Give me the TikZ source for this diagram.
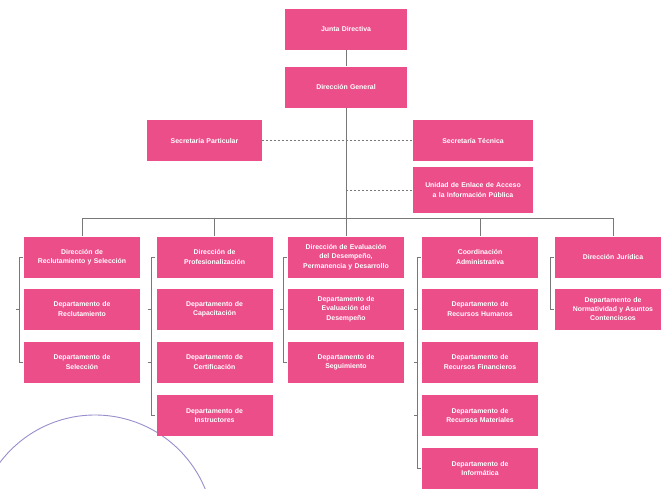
\documentclass[tikz,border=0pt]{standalone}
\usepackage{fontspec}
\setmainfont{Liberation Sans}
\definecolor{rosa}{RGB}{236,78,138}
\definecolor{linea}{RGB}{120,120,120}
\definecolor{sello}{RGB}{150,142,205}
\begin{document}
\begin{tikzpicture}[x=1pt,y=-1pt,
	caja/.style={fill=rosa,text=white,font=\fontsize{6.9}{9.4}\selectfont\bfseries,align=center,
		minimum width=116pt,minimum height=41pt,text width=110pt,inner sep=0pt},
	ancha/.style={caja,minimum width=122pt,text width=114pt},
	linea/.style={draw=linea,line width=0.6pt},
	punteada/.style={linea,dash pattern=on 2pt off 2pt}]
\useasboundingbox (0,0) rectangle (661,488);
\clip (0,0) rectangle (661,488);

% sello
\draw[sello,line width=0.9pt] (95,534) circle (119);

% nivel superior
\node[ancha] (jd) at (346,29) {Junta Directiva};
\node[ancha] (dg) at (346,87) {Dirección General};
\node[caja,minimum width=115pt] (sp) at (204.5,140.5) {Secretaría Particular};
\node[caja,minimum width=120pt] (st) at (473,140.5) {Secretaría Técnica};
\node[caja,minimum width=120pt,minimum height=46pt] (ue) at (473,190) {Unidad de Enlace de Acceso\\a la Información Pública};

\coordinate (bus) at (346,218);

% columnas
\node[caja] (a1) at (82,257) {Dirección de\\Reclutamiento y Selección};
\node[caja] (a2) at (82,309) {Departamento de\\Reclutamiento};
\node[caja] (a3) at (82,362) {Departamento de\\Selección};

\node[caja] (b1) at (214.5,257) {Dirección de\\Profesionalización};
\node[caja] (b2) at (214.5,309) {Departamento de\\Capacitación};
\node[caja] (b3) at (214.5,362) {Departamento de\\Certificación};
\node[caja] (b4) at (214.5,415.5) {Departamento de\\Instructores};

\node[caja] (c1) at (346,257) {Dirección de Evaluación\\del Desempeño,\\Permanencia y Desarrollo};
\node[caja] (c2) at (346,309) {Departamento de\\Evaluación del\\Desempeño};
\node[caja] (c3) at (346,362) {Departamento de\\Seguimiento};

\node[caja] (d1) at (480,257) {Coordinación\\Administrativa};
\node[caja] (d2) at (480,309) {Departamento de\\Recursos Humanos};
\node[caja] (d3) at (480,362) {Departamento de\\Recursos Financieros};
\node[caja] (d4) at (480,415.5) {Departamento de\\Recursos Materiales};
\node[caja] (d5) at (480,468.5) {Departamento de\\Informática};

\node[caja] (e1) at (613,257) {Dirección Jurídica};
\node[caja] (e2) at (613,309) {Departamento de\\Normatividad y Asuntos\\Contenciosos};

% conectores
\draw[linea] (jd) -- (dg);
\draw[linea] (dg) -- (bus);
\draw[punteada] (sp) -- (st);
\draw[punteada] (ue.west -| bus) -- (ue.west);
\draw[linea] (a1.north |- bus) -- (e1.north |- bus);
\foreach \n in {a1,b1,c1,d1,e1}{
	\draw[linea] (\n.north |- bus) -- (\n.north);
}

% corchetes
\draw[linea] ([xshift=-1pt]a1.west) -- ++(-4,0) |- ([xshift=-1pt]a3.west);
\draw[linea] ([xshift=-1pt]b1.west) -- ++(-4,0) |- ([xshift=-1pt]b4.west);
\draw[linea] ([xshift=-1pt]c1.west) -- ++(-4,0) |- ([xshift=-1pt]c3.west);
\draw[linea] ([xshift=-1pt]d1.west) -- ++(-4,0) |- ([xshift=-1pt]d5.west);
\draw[linea] ([xshift=-1pt]e1.west) -- ++(-4,0) |- ([xshift=-1pt]e2.west);
\foreach \n in {a2,b2,b3,c2,d2,d3,d4}{
	\draw[linea] ([xshift=-8pt]\n.west) -- ([xshift=-5pt]\n.west);
}
\end{tikzpicture}
\end{document}
